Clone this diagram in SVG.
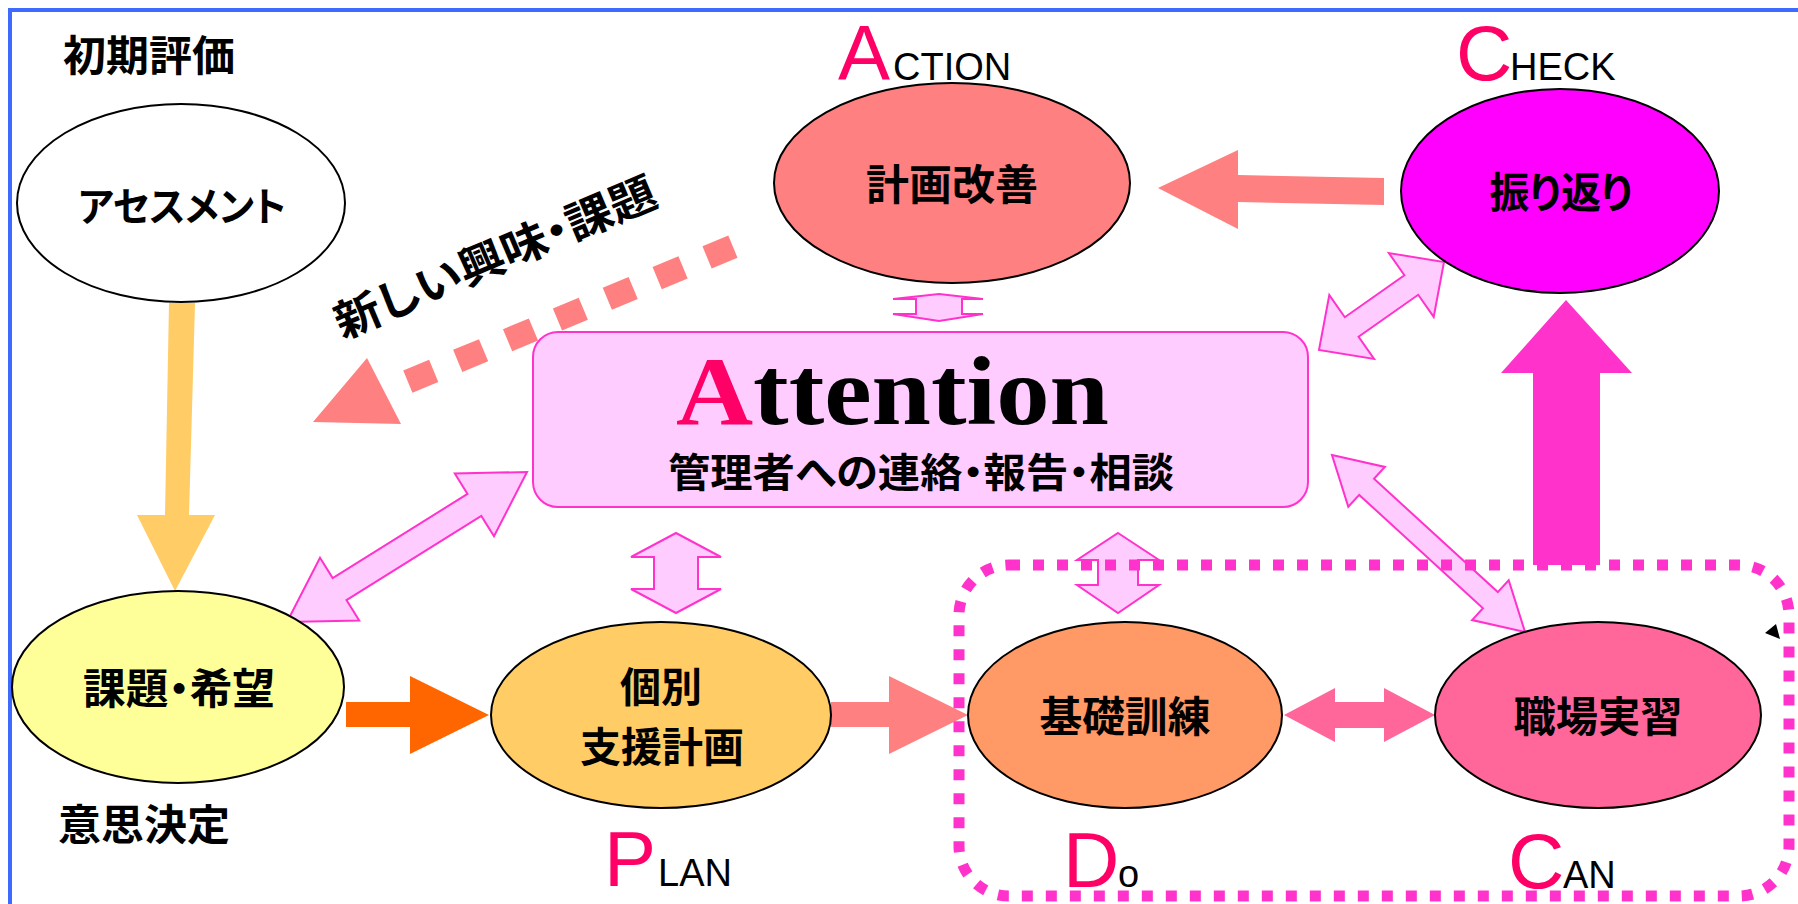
<svg xmlns="http://www.w3.org/2000/svg" width="1798" height="904" viewBox="0 0 1798 904">
<style>
.jp{font-family:"Noto Sans CJK JP","Noto Sans",sans-serif;font-weight:700;fill:#000;font-feature-settings:"palt" 1}
.lat{font-family:"Liberation Sans",Arial,sans-serif}
.big{fill:#FF0066;font-size:78px}
.sm{fill:#000;font-size:38px}
.node{stroke:#000;stroke-width:2}
.dbl{fill:#FFCCFF;stroke:#FF33CC;stroke-width:2;stroke-linejoin:miter}
</style>
<rect width="1798" height="904" fill="#fff"/>
<path d="M10,904 V10 H1798" fill="none" stroke="#3D6BFF" stroke-width="4"/>

<g id="connectors">
  <!-- assessment to issues (yellow) -->
  <polygon points="169,303 195,303 189,515 215,515 175,591 137,515 165,515" fill="#FFCC66"/>
  <!-- issues to plan (orange) -->
  <polygon points="346,702 410,702 410,676 489,715 410,754 410,727 346,727" fill="#FF6600"/>
  <!-- plan to do (salmon) -->
  <polygon points="831,702 889,702 889,676 968,715 889,754 889,727 831,727" fill="#FF8080"/>
  <!-- do <-> can -->
  <polygon points="1284,715 1335,688 1335,702 1384,702 1384,688 1435,715 1384,742 1384,728 1335,728 1335,742" fill="#FF6699"/>
  <!-- check to action -->
  <polygon points="1158,188 1238,150 1238,175 1384,178 1384,205 1238,202 1238,229" fill="#FF8080"/>
  <!-- can to check big arrow -->
  <polygon points="1566,300 1632,373 1600,373 1600,565 1533,565 1533,373 1501,373" fill="#FF33CC"/>
  <!-- dashed arrow: new interests -->
  <line x1="732.9" y1="246.6" x2="406.1" y2="382.4" stroke="#FF8080" stroke-width="24" stroke-dasharray="28 26"/>
  <polygon points="367,358 313,422 401,424" fill="#FF8080"/>
  <!-- attention double arrows -->
  <polygon class="dbl" points="939,294 983,299 962,299 962,314 983,314 939,321 893,314 916,314 916,299 893,299"/>
  <polygon class="dbl" points="676,533 721,557 698,557 698,589 721,589 676,613 631,589 654,589 654,557 631,557"/>
  <polygon class="dbl" points="1118,533 1159,560 1138,560 1138,585 1159,585 1118,613 1077,585 1098,585 1098,560 1077,560"/>
  <polygon class="dbl" points="527,472 494,536.3 481.3,515.9 346.5,600.1 359.2,620.5 287,622 320,557.7 332.7,578.1 467.5,493.9 454.8,473.5"/>
  <polygon class="dbl" points="1444,262 1433.7,316.9 1418.2,294.8 1358.6,336.8 1374.1,358.9 1319,350 1329.3,295.1 1344.8,317.2 1404.4,275.2 1388.9,253.1"/>
  <polygon class="dbl" points="1332,455 1384.9,466.9 1374,478.7 1497.8,592.1 1508.7,580.3 1525,632 1472.1,620.1 1483,608.3 1359.2,494.9 1348.3,506.7"/>
  <polygon points="1765,633 1776,624 1780,639" fill="#000"/>
</g>

<g id="do-can-group">
  <rect x="959" y="565" width="830" height="331" rx="50" ry="50" fill="none" stroke="#FF33CC" stroke-width="11" stroke-dasharray="11 13"/>
</g>

<g id="label-initial">
  <text class="jp" x="63" y="71" font-size="42" textLength="172" lengthAdjust="spacingAndGlyphs">初期評価</text>
</g>
<g id="label-decision">
  <text class="jp" x="58" y="840" font-size="42" textLength="172" lengthAdjust="spacingAndGlyphs">意思決定</text>
</g>
<g id="label-new">
  <text class="jp" transform="translate(495,257) rotate(-23)" x="0" y="16" font-size="44" text-anchor="middle" textLength="345" lengthAdjust="spacingAndGlyphs">新しい興味・課題</text>
</g>

<g id="node-assessment">
  <ellipse class="node" cx="181" cy="203" rx="164" ry="99" fill="#FFFFFF"/>
  <text class="jp" x="182" y="221" font-size="40" text-anchor="middle" textLength="208" lengthAdjust="spacingAndGlyphs">アセスメント</text>
</g>
<g id="node-issues">
  <ellipse class="node" cx="178" cy="687" rx="166" ry="96" fill="#FFFF99"/>
  <text class="jp" x="179" y="704" font-size="42" text-anchor="middle" textLength="192" lengthAdjust="spacingAndGlyphs">課題・希望</text>
</g>
<g id="node-plan">
  <ellipse class="node" cx="661" cy="715" rx="170" ry="93" fill="#FFCC66"/>
  <text class="jp" font-size="41" text-anchor="middle"><tspan x="661" y="702">個別</tspan><tspan x="662" y="762">支援計画</tspan></text>
  <text class="lat" y="886"><tspan class="big" x="604">P</tspan><tspan class="sm" x="658">LAN</tspan></text>
</g>
<g id="node-do">
  <ellipse class="node" cx="1125" cy="715" rx="157" ry="93" fill="#FF9966"/>
  <text class="jp" x="1125" y="732" font-size="42" text-anchor="middle" textLength="171" lengthAdjust="spacingAndGlyphs">基礎訓練</text>
  <text class="lat" y="887"><tspan class="big" x="1063">D</tspan><tspan class="sm" x="1118">o</tspan></text>
</g>
<g id="node-can">
  <ellipse class="node" cx="1598" cy="715" rx="163" ry="93" fill="#FF6699"/>
  <text class="jp" x="1598" y="732" font-size="42" text-anchor="middle" textLength="169" lengthAdjust="spacingAndGlyphs">職場実習</text>
  <text class="lat" y="888"><tspan class="big" x="1508">C</tspan><tspan class="sm" x="1563">AN</tspan></text>
</g>
<g id="node-action">
  <ellipse class="node" cx="952" cy="183" rx="178" ry="100" fill="#FF8080"/>
  <text class="jp" x="952" y="200" font-size="42" text-anchor="middle" textLength="172" lengthAdjust="spacingAndGlyphs">計画改善</text>
  <text class="lat" y="80"><tspan class="big" x="838">A</tspan><tspan class="sm" x="893">CTION</tspan></text>
</g>
<g id="node-check">
  <ellipse class="node" cx="1560" cy="191" rx="159" ry="102" fill="#FF00FF"/>
  <text class="jp" x="1561" y="208" font-size="42" text-anchor="middle" textLength="143" lengthAdjust="spacingAndGlyphs">振り返り</text>
  <text class="lat" y="80"><tspan class="big" x="1456">C</tspan><tspan class="sm" x="1510">HECK</tspan></text>
</g>
<g id="node-attention">
  <rect x="533" y="332" width="775" height="175" rx="25" ry="25" fill="#FFCCFF" stroke="#FF33CC" stroke-width="2"/>
  <text x="676" y="424" font-family="'Liberation Serif','Times New Roman',serif" font-weight="700" font-size="98" textLength="433" lengthAdjust="spacingAndGlyphs"><tspan fill="#FF0066">A</tspan><tspan fill="#000">ttention</tspan></text>
  <text class="jp" x="921" y="487" font-size="40" text-anchor="middle" textLength="506" lengthAdjust="spacingAndGlyphs">管理者への連絡・報告・相談</text>
</g>
</svg>
